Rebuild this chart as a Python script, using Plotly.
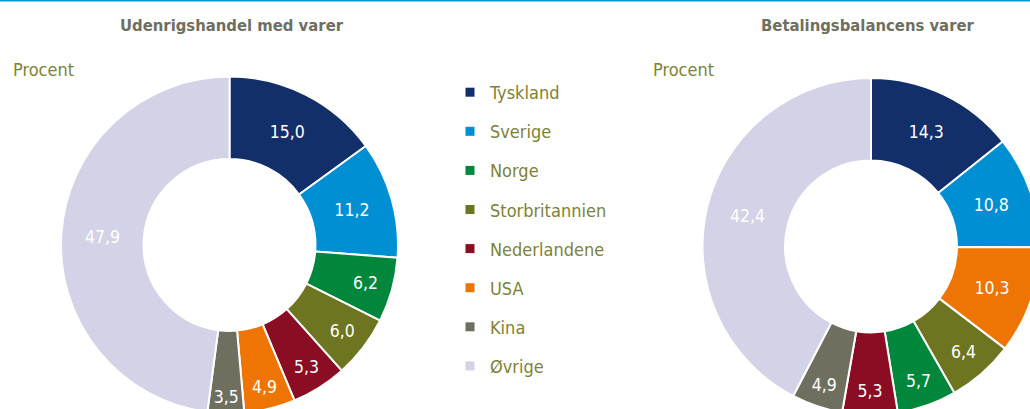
import plotly.graph_objects as go

# ---- data ----
labels_left = ["Tyskland", "Sverige", "Norge", "Storbritannien", "Nederlandene", "USA", "Kina", "Øvrige"]
values_left = [15.0, 11.2, 6.2, 6.0, 5.3, 4.9, 3.5, 47.9]

labels_right = ["Tyskland", "Sverige", "USA", "Storbritannien", "Norge", "Nederlandene", "Kina", "Øvrige"]
values_right = [14.3, 10.8, 10.3, 6.4, 5.7, 5.3, 4.9, 42.4]

legend_labels = ["Tyskland", "Sverige", "Norge", "Storbritannien", "Nederlandene", "USA", "Kina", "Øvrige"]
colors = {
    "Tyskland": "#132f69",
    "Sverige": "#008fd3",
    "Norge": "#00873c",
    "Storbritannien": "#6e7520",
    "Nederlandene": "#8a0d24",
    "USA": "#ee7404",
    "Kina": "#6f6f5f",
    "Øvrige": "#d4d2e6",
}

title_left = "Udenrigshandel med varer"
title_right = "Betalingsbalancens varer"
unit_label = "Procent"

# ---- layout constants ----
W, H = 1100, 480
FONT = "DejaVu Sans Condensed, Liberation Sans Narrow, sans-serif"
TXT_OLIVE = "#7d8235"
TXT_GRAY = "#6e6f60"


def fmt(v):
    return f"{v:.1f}".replace(".", ",")


def dom(cx, cy, r):
    return dict(x=[(cx - r) / W, (cx + r) / W], y=[1 - (cy + r) / H, 1 - (cy - r) / H])


fig = go.Figure()

for labels, values, (cx, cy) in [(labels_left, values_left, (229.5, 245)),
                                 (labels_right, values_right, (871, 246.5))]:
    fig.add_trace(go.Pie(
        labels=labels,
        values=values,
        text=[fmt(v) for v in values],
        textinfo="text",
        textposition="inside",
        insidetextorientation="horizontal",
        textfont=dict(family=FONT, size=17.5, color="white"),
        marker=dict(colors=[colors[l] for l in labels], line=dict(color="white", width=2)),
        hole=0.51,
        sort=False,
        direction="clockwise",
        rotation=0,
        domain=dom(cx, cy, 168.5),
        showlegend=False,
        hoverinfo="label+value",
    ))

# legend via marker-only traces
for lab in legend_labels:
    fig.add_trace(go.Scatter(
        x=[None], y=[None], mode="markers", name=lab, legendgroup=lab,
        marker=dict(symbol="square", size=9, color=colors[lab]),
        showlegend=True,
    ))

annotations = [
    dict(text=f"<b>{title_left}</b>", x=232 / W, y=1 - 25 / H, xref="paper", yref="paper",
         showarrow=False, xanchor="center", yanchor="middle",
         font=dict(family=FONT, size=16.5, color=TXT_GRAY)),
    dict(text=f"<b>{title_right}</b>", x=868 / W, y=1 - 25 / H, xref="paper", yref="paper",
         showarrow=False, xanchor="center", yanchor="middle",
         font=dict(family=FONT, size=16.5, color=TXT_GRAY)),
    dict(text=unit_label, x=11 / W, y=1 - 69 / H, xref="paper", yref="paper",
         showarrow=False, xanchor="left", yanchor="middle",
         font=dict(family=FONT, size=18, color=TXT_OLIVE)),
    dict(text=unit_label, x=651 / W, y=1 - 69 / H, xref="paper", yref="paper",
         showarrow=False, xanchor="left", yanchor="middle",
         font=dict(family=FONT, size=18, color=TXT_OLIVE)),
]

fig.update_layout(
    width=W, height=H,
    margin=dict(l=0, r=0, t=0, b=0),
    paper_bgcolor="white",
    plot_bgcolor="white",
    xaxis=dict(visible=False),
    yaxis=dict(visible=False),
    annotations=annotations,
    uniformtext=dict(minsize=17.5, mode="show"),
    legend=dict(
        x=450 / W, y=1 - 74 / H, xanchor="left", yanchor="top",
        font=dict(family=FONT, size=18, color=TXT_OLIVE),
        bgcolor="rgba(0,0,0,0)",
        tracegroupgap=12.7,
        itemclick=False, itemdoubleclick=False,
    ),
    shapes=[dict(type="line", xref="paper", yref="paper", x0=0, x1=1, y0=1, y1=1,
                 line=dict(color="#0093d5", width=3))],
)

post = ("document.body.style.margin='0';document.body.style.overflow='hidden';"
        "document.documentElement.style.overflow='hidden';")
fig.write_html("out.html", post_script=post, config={"displayModeBar": False})
